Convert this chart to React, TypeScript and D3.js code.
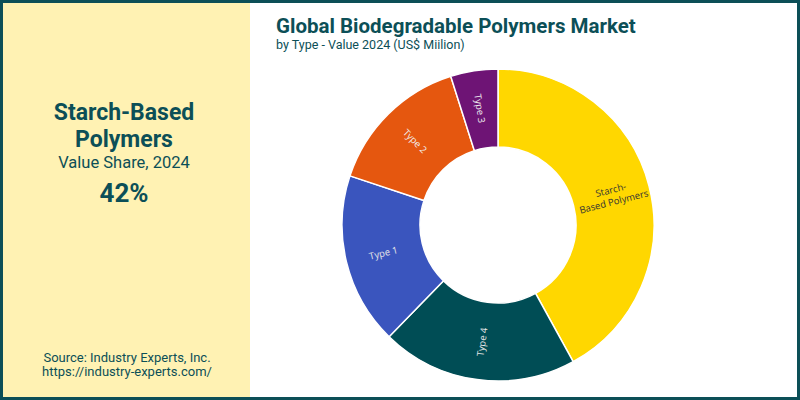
import React from "react";
import * as d3 from "d3";

const categories = ["Starch-Based Polymers", "Type 4", "Type 1", "Type 2", "Type 3"];
const values = [42.0, 20.3, 17.8, 15.0, 4.9];
const labelLines = [["Starch-", "Based Polymers"], ["Type 4"], ["Type 1"], ["Type 2"], ["Type 3"]];
const colors = ["#FFD700", "#004D55", "#3A55BE", "#E5570F", "#6E1475"];
const labelColors = ["#333333", "#E8E8E8", "#E8E8E8", "#F2F2F2", "#F2F2F2"];

const title = "Global Biodegradable Polymers Market";
const subtitle = "by Type - Value 2024 (US$ Miilion)";
const highlightName = ["Starch-Based", "Polymers"];
const highlightSub = "Value Share, 2024";
const highlightValue = "42%";
const sourceLines = ["Source: Industry Experts, Inc.", "https://industry-experts.com/"];

const W = 800;
const H = 400;
const teal = "#0C4F57";

export default function App() {
  const cx = 498;
  const cy = 225;
  const outerR = 156;
  const innerR = 78;
  const pie = d3.pie<number>().sort(null).value((d) => d);
  const arcs = pie(values);
  const arcGen = d3.arc<d3.PieArcDatum<number>>().innerRadius(innerR).outerRadius(outerR);
  const labelArc = d3.arc<d3.PieArcDatum<number>>().innerRadius(118).outerRadius(118);

  return (
    <svg
      width={W}
      height={H}
      style={{ position: "absolute", left: 0, top: 0, display: "block" }}
      fontFamily="Roboto, sans-serif"
    >
      <rect x={0} y={0} width={W} height={H} fill="#ffffff" />
      <rect x={0} y={0} width={250} height={H} fill="#FFF2B3" />
      {/* border */}
      <rect x={1.5} y={1.5} width={W - 3} height={H - 3} fill="none" stroke={teal} strokeWidth={3} />

      {/* left panel */}
      <g fill={teal} textAnchor="middle">
        <text x={124} y={120} fontSize={23} fontWeight={700}>{highlightName[0]}</text>
        <text x={124} y={147} fontSize={23} fontWeight={700}>{highlightName[1]}</text>
        <text x={124} y={168} fontSize={16.5}>{highlightSub}</text>
        <text x={124} y={202} fontSize={26} fontWeight={700}>{highlightValue}</text>
        <text x={127} y={362} fontSize={13}>{sourceLines[0]}</text>
        <text x={127} y={376} fontSize={13}>{sourceLines[1]}</text>
      </g>

      {/* title */}
      <text x={276} y={32.5} fontSize={20.5} fontWeight={700} fill={teal}>{title}</text>
      <text x={276} y={48.5} fontSize={12.5} fill={teal}>{subtitle}</text>

      {/* donut */}
      <g transform={`translate(${cx},${cy})`}>
        {arcs.map((a, i) => (
          <path key={categories[i]} d={arcGen(a) || ""} fill={colors[i]} stroke="#ffffff" strokeWidth={1.5} />
        ))}
        {arcs.map((a, i) => {
          const [lx, ly] = labelArc.centroid(a);
          const mid = ((a.startAngle + a.endAngle) / 2) * (180 / Math.PI);
          let rot = mid - 90;
          if (rot > 90) rot -= 180;
          const lines = labelLines[i];
          const lh = 12;
          return (
            <text
              key={"l" + i}
              transform={`translate(${lx},${ly}) rotate(${rot})`}
              textAnchor="middle"
              fontFamily="'Open Sans', 'Noto Sans', sans-serif"
              fontSize={9.5}
              fill={labelColors[i]}
            >
              {lines.map((ln, j) => (
                <tspan key={j} x={0} y={(j - (lines.length - 1) / 2) * lh + 3.5}>{ln}</tspan>
              ))}
            </text>
          );
        })}
      </g>
    </svg>
  );
}
